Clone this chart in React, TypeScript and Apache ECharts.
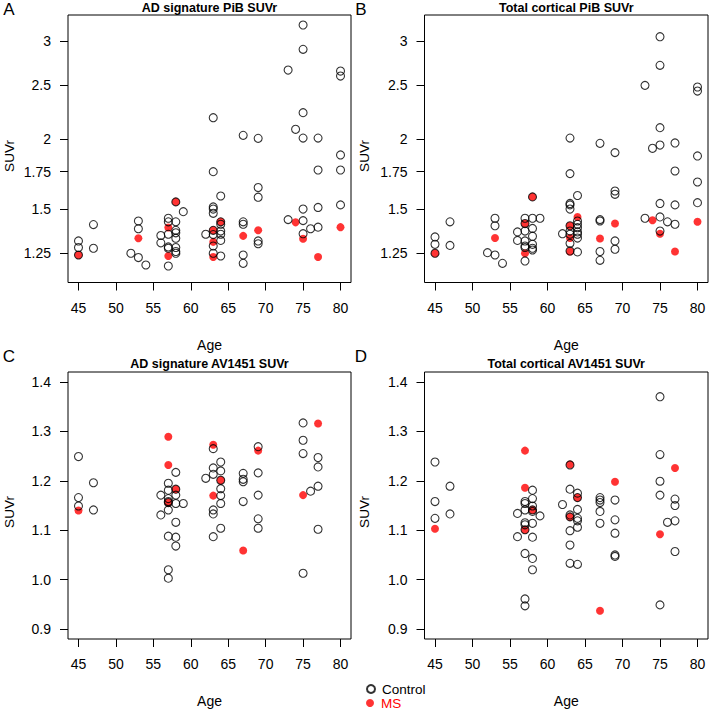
import React, { useEffect, useRef } from "react";
import * as echarts from "echarts";

const FONT = "Liberation Sans, Arial, Helvetica, sans-serif";

const AGE_TICKS = [45, 50, 55, 60, 65, 70, 75, 80];
const PIB_TICKS = [1.25, 1.5, 1.75, 2, 2.5, 3];
const PIB_TICK_LABELS = ["1.25", "1.5", "1.75", "2", "2.5", "3"];
const AV_TICKS = [0.9, 1.0, 1.1, 1.2, 1.3, 1.4];
const AV_TICK_LABELS = ["0.9", "1.0", "1.1", "1.2", "1.3", "1.4"];

const PANEL_TITLES = [
  "AD signature PiB SUVr",
  "Total cortical PiB SUVr",
  "AD signature AV1451 SUVr",
  "Total cortical AV1451 SUVr",
];
const PANEL_LETTERS = ["A", "B", "C", "D"];

// Panel A: AD signature PiB SUVr  [age, SUVr]
const adPibControl = [
  [45, 1.315], [45, 1.28], [45, 1.241],
  [47, 1.407], [47, 1.276],
  [52, 1.25],
  [53, 1.428], [53, 1.383], [53, 1.228],
  [54, 1.191],
  [56, 1.345], [56, 1.305],
  [57, 1.444], [57, 1.423], [57, 1.352], [57, 1.283], [57, 1.276], [57, 1.186],
  [58, 1.545], [58, 1.423], [58, 1.374], [58, 1.36], [58, 1.33], [58, 1.28], [58, 1.259], [58, 1.25],
  [59, 1.484],
  [62, 1.352],
  [63, 2.186], [63, 1.75], [63, 1.513], [63, 1.5], [63, 1.474], [63, 1.374], [63, 1.35], [63, 1.288], [63, 1.25],
  [64, 1.583], [64, 1.423], [64, 1.409], [64, 1.37], [64, 1.352], [64, 1.318], [64, 1.236],
  [67, 2.033], [67, 1.423], [67, 1.409], [67, 1.241], [67, 1.199],
  [69, 2.008], [69, 1.639], [69, 1.575], [69, 1.315], [69, 1.3],
  [73, 2.661], [73, 1.436],
  [74, 2.084],
  [75, 3.204], [75, 2.898], [75, 2.232], [75, 2.01], [75, 1.5], [75, 1.43], [75, 1.355],
  [76, 1.383],
  [77, 2.01], [77, 1.762], [77, 1.51], [77, 1.392],
  [80, 2.65], [80, 2.596], [80, 1.875], [80, 1.762], [80, 1.526],
];
const adPibMS = [
  [45, 1.241], [53, 1.33], [57, 1.39], [57, 1.236], [58, 1.545],
  [63, 1.374], [63, 1.31], [63, 1.231], [64, 1.423], [67, 1.343],
  [69, 1.374], [74, 1.42], [75, 1.327], [77, 1.231], [80, 1.392],
];

// Panel B: Total cortical PiB SUVr
const totPibControl = [
  [45, 1.337], [45, 1.297], [45, 1.25],
  [47, 1.423], [47, 1.291],
  [52, 1.253],
  [53, 1.444], [53, 1.4], [53, 1.241],
  [54, 1.199],
  [56, 1.365], [56, 1.318],
  [57, 1.444], [57, 1.413], [57, 1.37], [57, 1.315], [57, 1.288], [57, 1.28], [57, 1.211],
  [58, 1.577], [58, 1.444], [58, 1.385], [58, 1.341], [58, 1.297], [58, 1.276], [58, 1.267],
  [59, 1.444],
  [62, 1.355],
  [63, 2.01], [63, 1.736], [63, 1.535], [63, 1.526], [63, 1.5], [63, 1.4], [63, 1.37], [63, 1.352], [63, 1.302], [63, 1.262],
  [64, 1.586], [64, 1.428], [64, 1.409], [64, 1.389], [64, 1.365], [64, 1.352], [64, 1.331], [64, 1.257],
  [67, 1.967], [67, 1.436], [67, 1.428], [67, 1.259], [67, 1.214],
  [69, 1.893], [69, 1.616], [69, 1.594], [69, 1.315], [69, 1.271],
  [73, 2.498], [73, 1.444],
  [74, 1.927],
  [75, 3.053], [75, 2.713], [75, 2.098], [75, 1.953], [75, 1.535], [75, 1.452], [75, 1.37],
  [76, 1.423],
  [77, 1.97], [77, 1.755], [77, 1.526], [77, 1.409],
  [80, 2.481], [80, 2.44], [80, 1.867], [80, 1.677], [80, 1.54],
];
const totPibMS = [
  [45, 1.25], [53, 1.331], [57, 1.413], [57, 1.25], [58, 1.577],
  [63, 1.4], [63, 1.331], [63, 1.259], [64, 1.452], [67, 1.328],
  [69, 1.413], [74, 1.432], [75, 1.355], [77, 1.259], [80, 1.423],
];

// Panel C: AD signature AV1451 SUVr
const adAvControl = [
  [45, 1.249], [45, 1.166], [45, 1.149],
  [47, 1.196], [47, 1.141],
  [56, 1.171], [56, 1.131],
  [57, 1.195], [57, 1.181], [57, 1.164], [57, 1.158], [57, 1.156], [57, 1.141], [57, 1.088], [57, 1.02], [57, 1.003],
  [58, 1.217], [58, 1.183], [58, 1.171], [58, 1.154], [58, 1.116], [58, 1.086], [58, 1.068],
  [59, 1.154],
  [62, 1.205],
  [63, 1.265], [63, 1.226], [63, 1.213], [63, 1.141], [63, 1.133], [63, 1.087],
  [64, 1.238], [64, 1.22], [64, 1.201], [64, 1.184], [64, 1.17], [64, 1.154], [64, 1.104],
  [67, 1.215], [67, 1.203], [67, 1.198], [67, 1.158],
  [69, 1.269], [69, 1.216], [69, 1.171], [69, 1.123], [69, 1.104],
  [75, 1.317], [75, 1.282], [75, 1.255], [75, 1.013],
  [76, 1.179],
  [77, 1.247], [77, 1.228], [77, 1.189], [77, 1.102],
];
const adAvMS = [
  [45, 1.14], [57, 1.289], [57, 1.232], [57, 1.156], [58, 1.183],
  [63, 1.273], [63, 1.17], [64, 1.201], [67, 1.059], [69, 1.261],
  [75, 1.171], [77, 1.316],
];

// Panel D: Total cortical AV1451 SUVr
const totAvControl = [
  [45, 1.238], [45, 1.158], [45, 1.124],
  [47, 1.189], [47, 1.133],
  [56, 1.134], [56, 1.087],
  [57, 1.158], [57, 1.154], [57, 1.141], [57, 1.115], [57, 1.111], [57, 1.101], [57, 1.053], [57, 0.961], [57, 0.947],
  [58, 1.181], [58, 1.164], [58, 1.149], [58, 1.141], [58, 1.138], [58, 1.114], [58, 1.086], [58, 1.043], [58, 1.02],
  [59, 1.129],
  [62, 1.152],
  [63, 1.232], [63, 1.183], [63, 1.131], [63, 1.127], [63, 1.099], [63, 1.07], [63, 1.033],
  [64, 1.175], [64, 1.166], [64, 1.142], [64, 1.124], [64, 1.119], [64, 1.106], [64, 1.031],
  [67, 1.166], [67, 1.161], [67, 1.156], [67, 1.138], [67, 1.114],
  [69, 1.161], [69, 1.121], [69, 1.094], [69, 1.05], [69, 1.047],
  [75, 1.37], [75, 1.253], [75, 1.199], [75, 1.171], [75, 0.949],
  [76, 1.116],
  [77, 1.163], [77, 1.15], [77, 1.119], [77, 1.057],
];
const totAvMS = [
  [45, 1.103], [57, 1.261], [57, 1.186], [57, 1.101], [58, 1.141],
  [63, 1.233], [63, 1.127], [64, 1.166], [67, 0.937], [69, 1.198],
  [75, 1.092], [77, 1.226],
];

const GRIDS = [
  { left: 68, top: 15, width: 283, height: 267.5 },
  { left: 424.5, top: 15, width: 283.5, height: 267.5 },
  { left: 68, top: 372, width: 283, height: 267 },
  { left: 424.5, top: 372, width: 283.5, height: 267 },
];

export default function App() {
  const ref = useRef<HTMLDivElement>(null);

  useEffect(() => {
    if (!ref.current) return;
    const chart = echarts.init(ref.current, null, { renderer: "svg" });

    const logPts = (arr: number[][]) => arr.map(([a, v]) => [a, Math.log(v)]);
    const panels = [
      { ctrl: logPts(adPibControl), ms: logPts(adPibMS) },
      { ctrl: logPts(totPibControl), ms: logPts(totPibMS) },
      { ctrl: adAvControl, ms: adAvMS },
      { ctrl: totAvControl, ms: totAvMS },
    ];

    const xAxes = GRIDS.map((_, i) => ({
      type: "value",
      gridIndex: i,
      min: 43.6,
      max: 81.4,
      axisLine: { show: false },
      splitLine: { show: false },
      axisTick: {
        show: true,
        length: 8,
        customValues: AGE_TICKS,
        lineStyle: { color: "#000", width: 1 },
      },
      axisLabel: {
        customValues: AGE_TICKS,
        fontSize: 14,
        color: "#000",
        margin: 18,
        fontFamily: FONT,
      },
      name: "Age",
      nameLocation: "middle",
      nameGap: 55,
      nameTextStyle: { fontSize: 14, color: "#000", fontFamily: FONT },
    }));

    const pibLog = PIB_TICKS.map((t) => Math.log(t));
    const yAxes = GRIDS.map((_, i) => {
      const isPib = i < 2;
      return {
        type: "value",
        gridIndex: i,
        min: isPib ? Math.log(1.108) : 0.88,
        max: isPib ? Math.log(3.339) : 1.42,
        axisLine: { show: false },
        splitLine: { show: false },
        axisTick: {
          show: true,
          length: 8,
          customValues: isPib ? pibLog : AV_TICKS,
          lineStyle: { color: "#000", width: 1 },
        },
        axisLabel: {
          customValues: isPib ? pibLog : AV_TICKS,
          fontSize: 14,
          color: "#000",
          margin: 17,
          fontFamily: FONT,
          formatter: (v: number) => {
            const ticks = isPib ? pibLog : AV_TICKS;
            const labels = isPib ? PIB_TICK_LABELS : AV_TICK_LABELS;
            const k = ticks.findIndex((t) => Math.abs(t - v) < 1e-4);
            return k >= 0 ? labels[k] : "";
          },
        },
      };
    });

    const series: any[] = [];
    panels.forEach((p, i) => {
      series.push({
        type: "scatter",
        name: "MS",
        xAxisIndex: i,
        yAxisIndex: i,
        data: p.ms,
        symbol: "circle",
        symbolSize: 8,
        itemStyle: { color: "#ff0000", borderWidth: 0 },
        silent: true,
        z: 2,
      });
      series.push({
        type: "scatter",
        name: "Control",
        xAxisIndex: i,
        yAxisIndex: i,
        data: p.ctrl,
        symbol: "circle",
        symbolSize: 8,
        itemStyle: {
          color: "rgba(0,0,0,0)",
          borderColor: "#000",
          borderWidth: 1.1,
        },
        silent: true,
        z: 3,
      });
    });

    const graphics: any[] = [];
    const centers = GRIDS.map((g) => g.left + g.width / 2);
    const titleY = [7.5, 7.5, 363.5, 363.5];
    const letterPos = [
      [9, 9],
      [361, 9],
      [9, 356],
      [361, 356],
    ];
    const suvrPos = [
      [9, 156],
      [364, 156],
      [9, 512],
      [364, 512],
    ];
    GRIDS.forEach((g, i) => {
      graphics.push({
        type: "text",
        x: centers[i],
        y: titleY[i],
        style: {
          text: PANEL_TITLES[i],
          fontSize: 12.5,
          fontWeight: "bold",
          fontFamily: FONT,
          fill: "#000",
          align: "center",
          verticalAlign: "middle",
        },
      });
      graphics.push({
        type: "text",
        x: letterPos[i][0],
        y: letterPos[i][1],
        style: {
          text: PANEL_LETTERS[i],
          fontSize: 17,
          fontFamily: FONT,
          fill: "#000",
          align: "center",
          verticalAlign: "middle",
        },
      });
      graphics.push({
        type: "text",
        x: suvrPos[i][0],
        y: suvrPos[i][1],
        rotation: Math.PI / 2,
        style: {
          text: "SUVr",
          fontSize: 13.5,
          fontFamily: FONT,
          fill: "#000",
          align: "center",
          verticalAlign: "middle",
        },
      });
    });

    const legendBase = {
      orient: "vertical",
      left: 366,
      padding: 0,
      itemWidth: 8,
      itemHeight: 8,
      itemGap: 0,
      selectedMode: false,
      textStyle: { fontSize: 13.5, fontFamily: FONT, padding: [0, 0, 0, 2] },
    };

    chart.setOption({
      animation: false,
      backgroundColor: "#fff",
      grid: GRIDS.map((g) => ({
        ...g,
        show: true,
        borderColor: "#000",
        borderWidth: 1,
        backgroundColor: "transparent",
        containLabel: false,
      })),
      xAxis: xAxes,
      yAxis: yAxes,
      legend: [
        {
          ...legendBase,
          top: 682,
          data: [{ name: "Control", icon: "circle", textStyle: { color: "#000" } }],
        },
        {
          ...legendBase,
          top: 696,
          data: [{ name: "MS", icon: "circle", textStyle: { color: "#ff0000" } }],
        },
      ],
      graphic: graphics,
      series,
    });

    return () => chart.dispose();
  }, []);

  return (
    <div
      ref={ref}
      style={{ position: "fixed", left: 0, top: 0, width: 709, height: 711, background: "#fff" }}
    />
  );
}
